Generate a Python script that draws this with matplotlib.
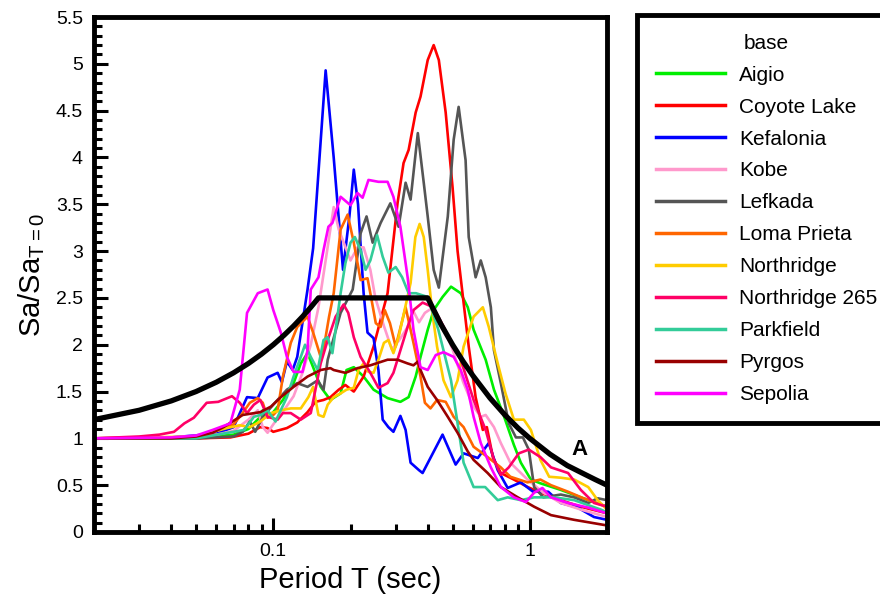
import numpy as np
import matplotlib
matplotlib.use('Agg')
import matplotlib.pyplot as plt
from matplotlib.ticker import FixedLocator, FuncFormatter, NullFormatter

plt.rcParams['font.family'] = ['Liberation Sans', 'DejaVu Sans']
plt.rcParams['mathtext.fontset'] = 'custom'
plt.rcParams['mathtext.rm'] = 'Liberation Sans'

# --- data (period T in sec, Sa/Sa_T=0) ---
aigio_T = [0.02, 0.05, 0.07, 0.08, 0.089, 0.091, 0.098, 0.109, 0.12, 0.128, 0.136, 0.143, 0.153, 0.167,
           0.183, 0.193, 0.206, 0.225, 0.246, 0.279, 0.313, 0.337, 0.359, 0.375, 0.4, 0.422, 0.457,
           0.493, 0.538, 0.573, 0.604, 0.673, 0.725, 0.79, 0.867, 0.923, 1.01, 1.1, 1.32, 1.58, 2.0]
aigio_v = [1.0, 1.0, 1.04, 1.1, 1.23, 1.3, 1.25, 1.41, 1.59, 1.8, 1.91, 1.76, 1.55, 1.41,
           1.48, 1.73, 1.76, 1.66, 1.52, 1.43, 1.39, 1.44, 1.66, 1.87, 2.16, 2.37, 2.51,
           2.62, 2.55, 2.4, 2.16, 1.84, 1.52, 1.25, 0.93, 0.74, 0.56, 0.52, 0.45, 0.37, 0.27]

coyote_T = [0.02, 0.05, 0.068, 0.08, 0.089, 0.095, 0.1, 0.113, 0.124, 0.136, 0.146, 0.157, 0.167, 0.18,
            0.191, 0.206, 0.225, 0.246, 0.279, 0.305, 0.322, 0.337, 0.359, 0.375, 0.4, 0.422, 0.442,
            0.47, 0.5, 0.523, 0.552, 0.578, 0.615, 0.656, 0.68, 0.718, 0.771, 0.867, 0.982, 1.1,
            1.32, 1.58, 2.0]
coyote_v = [1.0, 1.0, 1.01, 1.05, 1.12, 1.11, 1.07, 1.11, 1.17, 1.28, 1.39, 1.41, 1.44, 1.52,
            1.57, 1.5, 1.66, 1.98, 2.55, 3.51, 3.94, 4.08, 4.48, 4.65, 5.04, 5.2, 5.04,
            4.48, 3.68, 3.0, 2.45, 1.98, 1.44, 1.09, 1.12, 0.8, 0.63, 0.56, 0.48, 0.42,
            0.34, 0.27, 0.2]

kefal_T = [0.02, 0.04, 0.06, 0.07, 0.079, 0.087, 0.095, 0.104, 0.108, 0.113, 0.119, 0.124, 0.136, 0.143,
           0.16, 0.172, 0.187, 0.198, 0.206, 0.214, 0.225, 0.233, 0.246, 0.257, 0.267, 0.281, 0.294,
           0.313, 0.328, 0.343, 0.37, 0.382, 0.457, 0.514, 0.552, 0.627, 0.692, 0.75, 0.82, 0.923,
           1.03, 1.18, 1.32, 1.54, 1.78, 2.0]
kefal_v = [1.0, 1.01, 1.05, 1.12, 1.44, 1.43, 1.65, 1.7, 1.6, 1.82, 1.73, 1.87, 2.59, 3.03,
           4.93, 4.0, 2.8, 3.37, 3.87, 3.5, 2.55, 2.13, 2.07, 1.73, 1.2, 1.12, 1.07,
           1.24, 1.09, 0.74, 0.66, 0.63, 1.04, 0.72, 0.84, 0.79, 0.95, 0.66, 0.47, 0.53,
           0.43, 0.43, 0.31, 0.26, 0.16, 0.13]

kobe_T = [0.02, 0.04, 0.06, 0.07, 0.08, 0.087, 0.091, 0.095, 0.1, 0.11, 0.12, 0.13, 0.14, 0.15, 0.16,
          0.172, 0.18, 0.2, 0.213, 0.225, 0.239, 0.25, 0.27, 0.29, 0.31, 0.334, 0.35, 0.37, 0.39,
          0.42, 0.45, 0.5, 0.55, 0.6, 0.644, 0.673, 0.725, 0.771, 0.84, 0.98, 1.13, 1.32, 1.58, 2.0]
kobe_v = [1.0, 1.01, 1.04, 1.08, 1.2, 1.3, 1.12, 1.06, 1.15, 1.3, 1.45, 1.7, 2.0, 2.4, 2.9,
          3.47, 3.23, 2.9, 3.04, 3.04, 2.8, 2.5, 2.2, 1.95, 2.05, 2.19, 2.37, 2.24, 2.34,
          2.4, 2.25, 1.95, 1.6, 1.35, 1.23, 1.25, 1.12, 0.95, 0.74, 0.56, 0.42, 0.31, 0.24, 0.16]

lefk_T = [0.02, 0.05, 0.07, 0.076, 0.081, 0.085, 0.091, 0.1, 0.113, 0.124, 0.136, 0.149, 0.157, 0.163,
          0.183, 0.204, 0.219, 0.231, 0.244, 0.262, 0.286, 0.308, 0.328, 0.343, 0.366, 0.386, 0.4,
          0.422, 0.442, 0.479, 0.505, 0.528, 0.562, 0.578, 0.615, 0.644, 0.673, 0.705, 0.725, 0.771,
          0.828, 0.883, 0.94, 0.991, 1.04, 1.13, 1.32, 1.49, 1.69, 1.84, 2.0]
lefk_v = [1.0, 1.0, 1.02, 1.07, 1.18, 1.07, 1.23, 1.36, 1.52, 1.59, 1.55, 1.62, 1.52, 1.84,
          2.34, 2.59, 3.19, 3.37, 3.09, 3.3, 3.51, 3.26, 3.73, 3.55, 4.26, 3.73, 3.37,
          2.8, 2.61, 3.37, 4.19, 4.54, 3.97, 3.15, 2.72, 2.9, 2.72, 2.4, 1.94, 1.59,
          1.16, 1.01, 1.01, 0.88, 0.48, 0.37, 0.4, 0.37, 0.31, 0.36, 0.34]

loma_T = [0.02, 0.05, 0.07, 0.075, 0.081, 0.087, 0.091, 0.095, 0.1, 0.104, 0.109, 0.117, 0.124, 0.136,
          0.143, 0.153, 0.157, 0.165, 0.172, 0.183, 0.195, 0.206, 0.219, 0.233, 0.239, 0.251, 0.262,
          0.272, 0.285, 0.3, 0.328, 0.352, 0.375, 0.39, 0.41, 0.435, 0.47, 0.505, 0.552, 0.604,
          0.685, 0.771, 0.84, 0.98, 1.1, 1.21, 1.41, 1.62, 2.0]
loma_v = [1.0, 1.01, 1.15, 1.25, 1.38, 1.43, 1.38, 1.22, 1.25, 1.3, 1.66, 2.02, 2.19, 2.3,
          2.13, 1.87, 1.95, 2.3, 2.55, 3.23, 3.39, 3.09, 2.69, 2.71, 2.55, 2.23, 2.19,
          2.37, 2.23, 1.98, 2.4, 2.02, 1.66, 1.38, 1.32, 1.41, 1.39, 1.23, 1.12, 0.91,
          0.8, 0.69, 0.59, 0.53, 0.56, 0.5, 0.43, 0.36, 0.27]

north_T = [0.02, 0.05, 0.066, 0.074, 0.081, 0.089, 0.098, 0.107, 0.117, 0.128, 0.137, 0.143, 0.15, 0.157,
           0.163, 0.172, 0.183, 0.193, 0.206, 0.215, 0.225, 0.235, 0.246, 0.257, 0.27, 0.281, 0.294,
           0.308, 0.343, 0.358, 0.372, 0.386, 0.4, 0.417, 0.435, 0.461, 0.493, 0.523, 0.552, 0.604,
           0.656, 0.692, 0.75, 0.804, 0.867, 0.948, 1.01, 1.1, 1.19, 1.32, 1.49, 1.69, 1.84, 2.0]
north_v = [1.0, 1.02, 1.11, 1.14, 1.12, 1.18, 1.27, 1.3, 1.32, 1.32, 1.44, 1.55, 1.25, 1.23,
           1.36, 1.44, 1.48, 1.52, 1.54, 1.73, 1.8, 1.71, 1.7, 1.84, 2.02, 2.05, 1.91,
           2.08, 2.66, 3.15, 3.29, 3.15, 2.8, 2.34, 1.98, 1.62, 1.44, 1.62, 1.98, 2.3,
           2.4, 2.19, 1.8, 1.48, 1.2, 1.2, 1.09, 0.77, 0.59, 0.58, 0.56, 0.48, 0.34, 0.24]

n265_T = [0.02, 0.03, 0.036, 0.041, 0.045, 0.049, 0.055, 0.061, 0.069, 0.074, 0.079, 0.084, 0.089, 0.095,
          0.104, 0.109, 0.117, 0.128, 0.14, 0.153, 0.163, 0.175, 0.188, 0.196, 0.206, 0.219, 0.239,
          0.257, 0.279, 0.294, 0.313, 0.334, 0.352, 0.382, 0.42, 0.46, 0.5, 0.538, 0.604, 0.673,
          0.725, 0.771, 0.828, 0.906, 0.991, 1.1, 1.21, 1.41, 1.58, 1.78, 2.0]
n265_v = [1.0, 1.02, 1.04, 1.07, 1.16, 1.22, 1.38, 1.39, 1.45, 1.38, 1.27, 1.36, 1.41, 1.23,
          1.2, 1.27, 1.27, 1.2, 1.27, 1.8, 2.05, 2.3, 2.43, 2.34, 2.08, 1.87, 1.7,
          1.54, 1.59, 1.7, 1.94, 2.19, 2.37, 2.45, 2.4, 2.2, 2.0, 1.84, 1.41, 1.09,
          0.77, 0.61, 0.69, 0.84, 0.88, 0.8, 0.69, 0.63, 0.45, 0.31, 0.27]

park_T = [0.02, 0.05, 0.07, 0.077, 0.084, 0.089, 0.095, 0.102, 0.113, 0.12, 0.128, 0.133, 0.14, 0.149,
          0.157, 0.163, 0.17, 0.183, 0.191, 0.2, 0.208, 0.219, 0.229, 0.239, 0.254, 0.267, 0.281,
          0.3, 0.318, 0.337, 0.36, 0.4, 0.44, 0.493, 0.523, 0.552, 0.604, 0.67, 0.75, 0.82, 0.923,
          1.04, 1.24, 1.49, 1.89, 2.0]
park_v = [1.0, 1.0, 1.07, 1.09, 1.23, 1.25, 1.3, 1.18, 1.44, 1.66, 1.87, 2.0, 1.87, 1.73,
          2.05, 2.08, 1.91, 2.55, 2.87, 3.09, 3.15, 3.01, 2.8, 2.9, 3.17, 2.94, 2.77,
          2.83, 2.72, 2.55, 2.55, 2.51, 2.16, 1.62, 1.16, 0.74, 0.48, 0.48, 0.34, 0.37, 0.34,
          0.37, 0.37, 0.34, 0.24, 0.21]

pyrgos_T = [0.02, 0.04, 0.05, 0.058, 0.064, 0.076, 0.089, 0.098, 0.107, 0.12, 0.136, 0.153, 0.167, 0.172,
            0.191, 0.213, 0.239, 0.279, 0.305, 0.334, 0.352, 0.366, 0.375, 0.4, 0.435, 0.479, 0.523,
            0.573, 0.604, 0.685, 0.771, 0.898, 1.04, 1.21, 1.49, 2.0]
pyrgos_v = [1.0, 1.0, 1.02, 1.06, 1.12, 1.25, 1.28, 1.34, 1.44, 1.55, 1.66, 1.73, 1.75, 1.73,
            1.7, 1.75, 1.78, 1.84, 1.84, 1.8, 1.78, 1.82, 1.73, 1.55, 1.41, 1.23, 1.06,
            0.86, 0.77, 0.63, 0.48, 0.37, 0.27, 0.18, 0.13, 0.07]

sepol_T = [0.02, 0.04, 0.05, 0.058, 0.068, 0.074, 0.079, 0.087, 0.095, 0.1, 0.107, 0.113, 0.12, 0.13,
           0.136, 0.14, 0.15, 0.157, 0.164, 0.17, 0.183, 0.2, 0.213, 0.223, 0.235, 0.257, 0.279,
           0.294, 0.313, 0.334, 0.352, 0.375, 0.4, 0.43, 0.461, 0.505, 0.538, 0.573, 0.604, 0.644,
           0.705, 0.771, 0.867, 0.966, 1.04, 1.12, 1.21, 1.41, 1.69, 2.0]
sepol_v = [1.0, 1.01, 1.03, 1.09, 1.16, 1.52, 2.34, 2.55, 2.59, 2.37, 2.13, 1.87, 1.71, 1.71,
           1.94, 2.59, 2.72, 3.01, 3.26, 3.3, 3.58, 3.49, 3.62, 3.57, 3.76, 3.74, 3.74,
           3.58, 3.26, 2.72, 2.16, 1.76, 1.73, 1.89, 1.92, 1.87, 1.73, 1.52, 1.23, 0.95,
           0.69, 0.48, 0.37, 0.32, 0.42, 0.47, 0.37, 0.31, 0.26, 0.2]

# design spectrum "A"
spec_T = [0.02, 0.03, 0.04, 0.05, 0.06, 0.07, 0.08, 0.09, 0.1, 0.11, 0.12, 0.13, 0.14, 0.15,
          0.4, 0.45, 0.5, 0.55, 0.6, 0.7, 0.8, 0.9, 1.0, 1.2, 1.4, 1.6, 1.8, 2.0]
spec_v = [1.2, 1.3, 1.4, 1.5, 1.6, 1.7, 1.8, 1.9, 2.0, 2.1, 2.2, 2.3, 2.4, 2.5,
          2.5, 2.22, 2.0, 1.82, 1.67, 1.43, 1.25, 1.11, 1.0, 0.83, 0.71, 0.63, 0.56, 0.5]

names = ['Aigio', 'Coyote Lake', 'Kefalonia', 'Kobe', 'Lefkada', 'Loma Prieta',
         'Northridge', 'Northridge 265', 'Parkfield', 'Pyrgos', 'Sepolia']
colors = ['#00ee00', '#ff0000', '#0000ff', '#ff99cc', '#555555', '#ff6600',
          '#ffcc00', '#ff0066', '#33cc99', '#990000', '#ff00ff']
series = [(aigio_T, aigio_v), (coyote_T, coyote_v), (kefal_T, kefal_v), (kobe_T, kobe_v),
          (lefk_T, lefk_v), (loma_T, loma_v), (north_T, north_v), (n265_T, n265_v),
          (park_T, park_v), (pyrgos_T, pyrgos_v), (sepol_T, sepol_v)]

fig = plt.figure(figsize=(8.8, 5.98), dpi=100)
ax = fig.add_axes([94/880, 66/598, 513/880, 515/598])

for (T, v), name, c in zip(series, names, colors):
    ax.plot(T, v, color=c, lw=1.9, label=name, solid_joinstyle='round')
ax.plot(spec_T, spec_v, color='black', lw=3.8, solid_joinstyle='round')
ax.text(1.56, 0.88, 'A', fontsize=16, fontweight='bold', ha='center', va='center')

ax.set_xscale('log')
ax.set_xlim(0.02, 2)
ax.set_ylim(0, 5.5)
ax.xaxis.set_major_locator(FixedLocator([0.1, 1]))
ax.xaxis.set_minor_locator(FixedLocator([0.02, 0.03, 0.04, 0.05, 0.06, 0.07, 0.08, 0.09,
                                         0.2, 0.3, 0.4, 0.5, 0.6, 0.7, 0.8, 0.9, 2]))
ax.xaxis.set_major_formatter(FuncFormatter(lambda x, p: '%g' % x))
ax.xaxis.set_minor_formatter(NullFormatter())
ax.set_yticks(np.arange(0, 5.51, 0.5))
ax.set_yticks(np.arange(0, 5.51, 0.1), minor=True)
ax.yaxis.set_major_formatter(FuncFormatter(lambda y, p: '%g' % round(y, 1)))

ax.tick_params(which='both', direction='in', top=False, right=False, width=2.2, labelsize=14)
ax.tick_params(which='major', length=10, pad=8)
ax.tick_params(which='minor', length=6)
for s in ax.spines.values():
    s.set_linewidth(3.5)

ax.set_xlabel('Period T (sec)', fontsize=21, labelpad=4)
ax.set_ylabel(r'Sa/Sa$_{\mathregular{T=0}}$', fontsize=21, labelpad=6)

leg = ax.legend(loc='upper left', bbox_to_anchor=(637/880, 1 - 15/598),
                bbox_transform=fig.transFigure, borderaxespad=0, fontsize=15,
                title='base', title_fontsize=15, fancybox=False, frameon=True, framealpha=1,
                handlelength=3.3, handletextpad=0.7, labelspacing=0.62, borderpad=0.9)
leg.get_frame().set_edgecolor('black')
leg.get_frame().set_linewidth(3.5)
for h in leg.get_lines():
    h.set_linewidth(2.5)

fig.savefig('out.png', dpi=100)
